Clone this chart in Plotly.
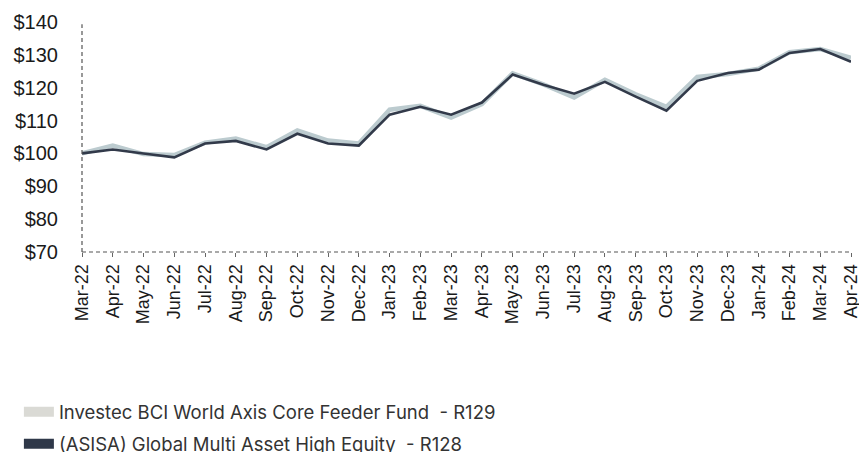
import plotly.graph_objects as go

months = ["Mar-22", "Apr-22", "May-22", "Jun-22", "Jul-22", "Aug-22", "Sep-22", "Oct-22",
          "Nov-22", "Dec-22", "Jan-23", "Feb-23", "Mar-23", "Apr-23", "May-23", "Jun-23",
          "Jul-23", "Aug-23", "Sep-23", "Oct-23", "Nov-23", "Dec-23", "Jan-24", "Feb-24",
          "Mar-24", "Apr-24"]

investec = [100.0, 102.4, 99.8, 99.5, 103.3, 104.5, 101.9, 107.0, 103.9, 103.0, 113.3, 114.5,
            110.9, 115.0, 124.4, 121.0, 117.0, 122.4, 118.0, 114.2, 123.3, 124.2, 125.8, 130.8,
            131.8, 129.1]
asisa = [100.0, 101.2, 100.0, 98.8, 103.0, 103.8, 101.2, 106.0, 103.0, 102.4, 111.8, 114.2,
         111.8, 115.5, 124.0, 120.9, 118.2, 121.8, 117.3, 113.0, 122.1, 124.5, 125.5, 130.6,
         131.8, 127.9]

names = ["Investec BCI World Axis Core Feeder Fund  - R129",
         "(ASISA) Global Multi Asset High Equity  - R128"]
line_colors = ["#bccbcf", "#323a4a"]
legend_colors = ["#dadad5", "#2f3849"]

fig = go.Figure()
fig.add_trace(go.Scatter(x=months, y=investec, mode="lines", showlegend=False,
                         line=dict(color=line_colors[0], width=4.5)))
fig.add_trace(go.Scatter(x=months, y=asisa, mode="lines", showlegend=False,
                         line=dict(color=line_colors[1], width=2.6)))
for i in range(2):
    fig.add_trace(go.Scatter(x=[None], y=[None], mode="lines", name=names[i],
                             legendgroup=f"g{i}",
                             line=dict(color=legend_colors[i], width=12)))

fig.update_layout(
    width=859, height=452,
    margin=dict(l=82, r=8, t=22, b=200, autoexpand=False),
    paper_bgcolor="white", plot_bgcolor="white",
    font=dict(family="Liberation Sans, Arial", color="#1a1a1a"),
    showlegend=True,
    legend=dict(xref="container", yref="container", x=0.022, y=0.13, xanchor="left",
                yanchor="top", font=dict(family="Inter", size=18.5, color="#333333"),
                tracegroupgap=5, itemwidth=30, bgcolor="rgba(0,0,0,0)"),
    xaxis=dict(type="category", tickangle=-90, tickfont=dict(size=18),
               tickmode="array", tickvals=months, ticktext=months,
               showgrid=False, showline=False, zeroline=False,
               ticks="outside", ticklen=4, tickcolor="#666666", tickwidth=1,
               range=[0, len(months) - 1]),
    yaxis=dict(range=[69.99, 140.01], dtick=10, tickprefix="$", tickfont=dict(size=20),
               showgrid=False, showline=False, zeroline=False, ticks="",
               ticklabelstandoff=23),
    shapes=[
        dict(type="line", xref="paper", yref="paper", x0=0, x1=0, y0=0, y1=0.99,
             line=dict(color="#555555", width=1.2, dash="4px,3px")),
        dict(type="line", xref="paper", yref="paper", x0=0, x1=1, y0=0, y1=0,
             line=dict(color="#555555", width=1.2, dash="4px,3px")),
    ],
)

fig.write_html("out.html")
